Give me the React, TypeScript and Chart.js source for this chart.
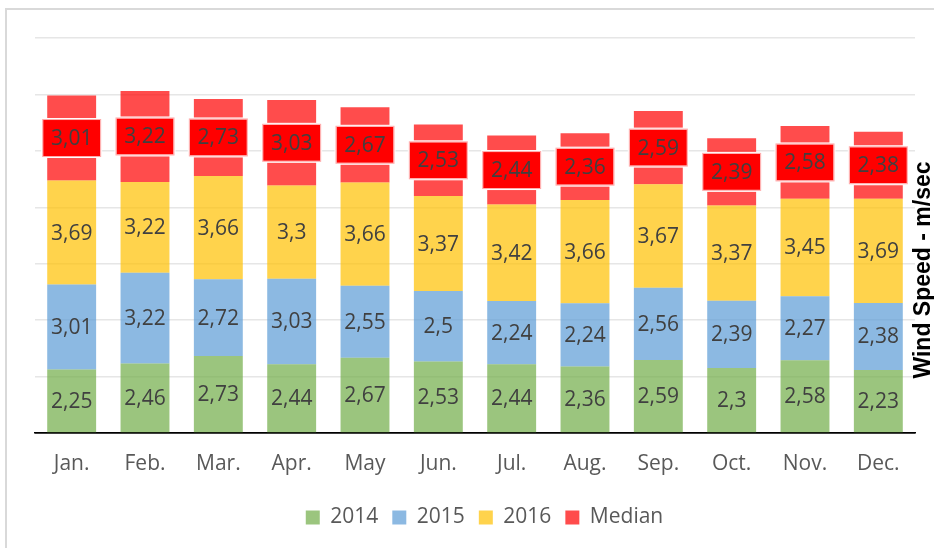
import React, { useEffect, useRef } from 'react';
import { Chart, registerables } from 'chart.js';

Chart.register(...registerables);

const categories = ['Jan.', 'Feb.', 'Mar.', 'Apr.', 'May', 'Jun.', 'Jul.', 'Aug.', 'Sep.', 'Oct.', 'Nov.', 'Dec.'];
const series2014 = [2.25, 2.46, 2.73, 2.44, 2.67, 2.53, 2.44, 2.36, 2.59, 2.3, 2.58, 2.23];
const series2015 = [3.01, 3.22, 2.72, 3.03, 2.55, 2.5, 2.24, 2.24, 2.56, 2.39, 2.27, 2.38];
const series2016 = [3.69, 3.22, 3.66, 3.3, 3.66, 3.37, 3.42, 3.66, 3.67, 3.37, 3.45, 3.69];
const seriesMedian = [3.01, 3.22, 2.73, 3.03, 2.67, 2.53, 2.44, 2.36, 2.59, 2.39, 2.58, 2.38];
const seriesNames = ['2014', '2015', '2016', 'Median'];
const seriesColors = ['rgba(112,173,71,0.7)', 'rgba(91,155,213,0.7)', 'rgba(255,192,0,0.7)', 'rgba(255,0,0,0.7)'];
const yMin = 0;
const yMax = 14;
const yStep = 2;
const yTitle = 'Wind Speed - m/sec';

const FONT = '"Open Sans", "Noto Sans", sans-serif';
const fmt = (v: number) => String(v).replace('.', ',');

const segLabels = {
  id: 'segLabels',
  afterDatasetsDraw(chart: any) {
    const ctx = chart.ctx;
    ctx.save();
    ctx.font = `21px ${FONT}`;
    ctx.textAlign = 'center';
    ctx.textBaseline = 'middle';
    chart.data.datasets.forEach((ds: any, i: number) => {
      const meta = chart.getDatasetMeta(i);
      meta.data.forEach((el: any, j: number) => {
        const v = ds.data[j];
        const cx = el.x;
        const cy = (el.y + el.base) / 2;
        if (i === 3) {
          const w = 57, h = 36;
          ctx.fillStyle = '#ffffff';
          ctx.fillRect(cx - w / 2 - 2, cy - h / 2 - 2, w + 4, h + 4);
          ctx.fillStyle = '#FF0000';
          ctx.fillRect(cx - w / 2, cy - h / 2, w, h);
          ctx.strokeStyle = 'rgba(255,170,170,1)';
          ctx.lineWidth = 1;
          ctx.strokeRect(cx - w / 2 - 0.5, cy - h / 2 - 0.5, w + 1, h + 1);
        }
        ctx.fillStyle = '#404040';
        ctx.fillText(fmt(v), cx, cy + 1);
      });
    });
    ctx.restore();
  },
};

const rightTitle = {
  id: 'rightTitle',
  afterDraw(chart: any) {
    const ctx = chart.ctx;
    const area = chart.chartArea;
    ctx.save();
    ctx.translate(area.right + 9, 270);
    ctx.rotate(-Math.PI / 2);
    ctx.font = 'bold 23px "Liberation Sans", Arial, sans-serif';
    ctx.fillStyle = '#000000';
    ctx.textAlign = 'center';
    ctx.textBaseline = 'middle';
    ctx.fillText(yTitle, 0, 0);
    ctx.restore();
  },
};

export default function App() {
  const ref = useRef<HTMLCanvasElement | null>(null);

  useEffect(() => {
    if (!ref.current) return;
    const data = [series2014, series2015, series2016, seriesMedian];
    const chart = new Chart(ref.current, {
      type: 'bar',
      data: {
        labels: categories,
        datasets: data.map((d, i) => ({
          label: seriesNames[i],
          data: d,
          backgroundColor: seriesColors[i],
          borderWidth: 0,
          barPercentage: 0.667,
          categoryPercentage: 1,
        })),
      },
      options: {
        responsive: false,
        animation: false,
        devicePixelRatio: 1,
        layout: { padding: { left: 35, right: 0, top: 38, bottom: 10 } },
        plugins: {
          tooltip: { enabled: false },
          legend: {
            position: 'bottom',
            labels: {
              boxWidth: 14,
              boxHeight: 14,
              padding: 14,
              color: '#595959',
              font: { family: FONT, size: 21 },
            },
          },
        },
        scales: {
          x: {
            stacked: true,
            grid: { display: false, drawTicks: false },
            border: { display: true, color: '#000000', width: 1.5 },
            ticks: { color: '#595959', font: { family: FONT, size: 21 }, padding: 18 },
            afterFit: (s: any) => { s.height = 60; },
          },
          y: {
            stacked: true,
            position: 'right',
            min: yMin,
            max: yMax,
            ticks: { display: false, stepSize: yStep },
            grid: {
              drawTicks: false,
              color: (c: any) => (c.tick && c.tick.value === 0 ? '#000000' : '#E6E6E6'),
              lineWidth: 1.5,
            },
            border: { display: false },
            afterFit: (s: any) => { s.width = 19; },
          },
        },
      },
      plugins: [segLabels, rightTitle],
    } as any);
    return () => chart.destroy();
  }, []);

  return (
    <div style={{ position: 'fixed', left: 0, top: 0, width: 934, height: 548, overflow: 'hidden', background: '#ffffff' }}>
      <div style={{ position: 'absolute', left: 5, top: 8, width: 1200, height: 1200, border: '2px solid #D9D9D9' }} />
      <canvas ref={ref} width={934} height={548} style={{ position: 'absolute', left: 0, top: 0, display: 'block' }} />
    </div>
  );
}
